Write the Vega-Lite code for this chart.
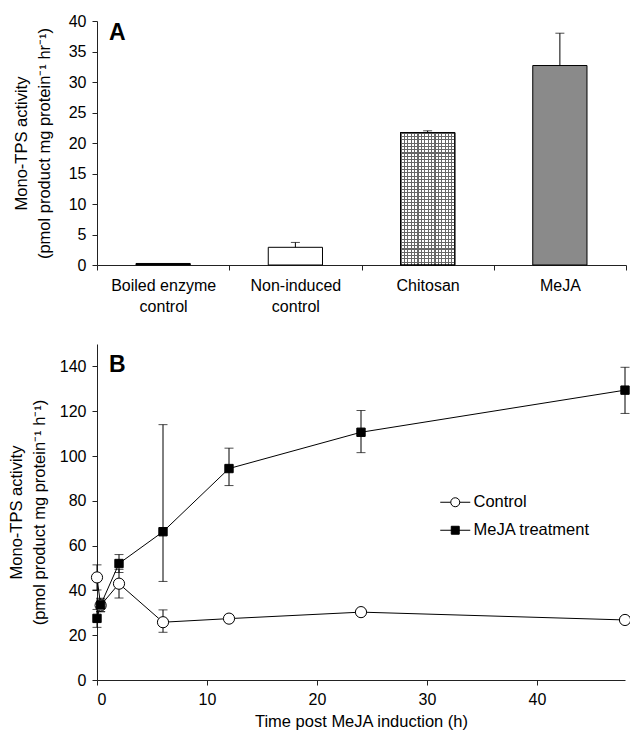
{
  "$schema": "https://vega.github.io/schema/vega-lite/v6.json",
  "padding": {"left": 8, "top": 13, "right": 3, "bottom": 4},
  "spacing": 30,
  "resolve": {"scale": {"fill": "independent", "shape": "independent"}, "legend": {"fill": "independent", "shape": "independent"}},
  "config": {
    "font": "Liberation Sans",
    "view": {"stroke": null},
    "axis": {
      "labelFont": "Liberation Sans", "titleFont": "Liberation Sans",
      "labelFontSize": 16, "titleFontSize": 16.5, "titleFontWeight": "normal",
      "labelColor": "#000", "titleColor": "#000", "domainColor": "#222", "tickColor": "#222",
      "grid": false, "tickSize": 5, "labelPadding": 6
    },
    "legend": {"labelFont": "Liberation Sans", "labelFontSize": 16.5, "labelColor": "#000"},
    "title": {"font": "Liberation Sans", "fontWeight": "bold", "fontSize": 23, "anchor": "start", "frame": "group", "color": "#000"}
  },
  "vconcat": [
    {
      "width": 529,
      "height": 244,
      "title": {"text": "A", "offset": -32, "dx": 12},
      "data": {"values": [
        {"treatment": "Boiled enzyme control", "activity": 0.25, "upper": null},
        {"treatment": "Non-induced control", "activity": 2.9, "upper": 3.7},
        {"treatment": "Chitosan", "activity": 21.7, "upper": 22.0},
        {"treatment": "MeJA", "activity": 32.7, "upper": 38.0}
      ]},
      "encoding": {
        "x": {
          "field": "treatment", "type": "nominal", "sort": null,
          "scale": {"paddingInner": 0, "paddingOuter": 0},
          "axis": {
            "title": null, "labelAngle": 0, "tickBand": "extent", "labelPadding": 7, "labelLineHeight": 21,
            "labelExpr": "datum.value == 'Boiled enzyme control' ? ['Boiled enzyme', 'control'] : datum.value == 'Non-induced control' ? ['Non-induced', 'control'] : datum.value"
          }
        }
      },
      "layer": [
        {
          "mark": {"type": "bar", "width": {"band": 0.41}, "stroke": "#000", "strokeWidth": 1},
          "encoding": {
            "y": {
              "field": "activity", "type": "quantitative",
              "scale": {"domain": [0, 40], "nice": false},
              "axis": {"values": [0, 5, 10, 15, 20, 25, 30, 35, 40], "title": ["Mono-TPS activity", "(pmol product mg protein⁻¹ hr⁻¹)"], "titleLineHeight": 23, "titlePadding": 16}
            },
            "fill": {
              "field": "treatment", "type": "nominal",
              "scale": {"domain": ["Boiled enzyme control", "Non-induced control", "Chitosan", "MeJA"], "range": ["#000000", "#ffffff", "#b4b4b4", "#8a8a8a"]},
              "legend": null
            }
          }
        },
        {
          "transform": [{"filter": "datum.treatment == 'Chitosan'"}],
          "mark": {"type": "bar", "width": {"band": 0.41}, "stroke": "#000", "strokeWidth": 1,
            "fill": {"gradient": "linear", "x1": 0, "x2": 1, "y1": 0, "y2": 0, "stops": [
              {"offset": 0, "color": "#666"}, {"offset": 0.0206, "color": "#666"}, {"offset": 0.0206, "color": "#fff"}, {"offset": 0.0625, "color": "#fff"},
              {"offset": 0.0625, "color": "#666"}, {"offset": 0.0831, "color": "#666"}, {"offset": 0.0831, "color": "#fff"}, {"offset": 0.125, "color": "#fff"},
              {"offset": 0.125, "color": "#666"}, {"offset": 0.1456, "color": "#666"}, {"offset": 0.1456, "color": "#fff"}, {"offset": 0.1875, "color": "#fff"},
              {"offset": 0.1875, "color": "#666"}, {"offset": 0.2081, "color": "#666"}, {"offset": 0.2081, "color": "#fff"}, {"offset": 0.25, "color": "#fff"},
              {"offset": 0.25, "color": "#666"}, {"offset": 0.2706, "color": "#666"}, {"offset": 0.2706, "color": "#fff"}, {"offset": 0.3125, "color": "#fff"},
              {"offset": 0.3125, "color": "#666"}, {"offset": 0.3331, "color": "#666"}, {"offset": 0.3331, "color": "#fff"}, {"offset": 0.375, "color": "#fff"},
              {"offset": 0.375, "color": "#666"}, {"offset": 0.3956, "color": "#666"}, {"offset": 0.3956, "color": "#fff"}, {"offset": 0.4375, "color": "#fff"},
              {"offset": 0.4375, "color": "#666"}, {"offset": 0.4581, "color": "#666"}, {"offset": 0.4581, "color": "#fff"}, {"offset": 0.5, "color": "#fff"},
              {"offset": 0.5, "color": "#666"}, {"offset": 0.5206, "color": "#666"}, {"offset": 0.5206, "color": "#fff"}, {"offset": 0.5625, "color": "#fff"},
              {"offset": 0.5625, "color": "#666"}, {"offset": 0.5831, "color": "#666"}, {"offset": 0.5831, "color": "#fff"}, {"offset": 0.625, "color": "#fff"},
              {"offset": 0.625, "color": "#666"}, {"offset": 0.6456, "color": "#666"}, {"offset": 0.6456, "color": "#fff"}, {"offset": 0.6875, "color": "#fff"},
              {"offset": 0.6875, "color": "#666"}, {"offset": 0.7081, "color": "#666"}, {"offset": 0.7081, "color": "#fff"}, {"offset": 0.75, "color": "#fff"},
              {"offset": 0.75, "color": "#666"}, {"offset": 0.7706, "color": "#666"}, {"offset": 0.7706, "color": "#fff"}, {"offset": 0.8125, "color": "#fff"},
              {"offset": 0.8125, "color": "#666"}, {"offset": 0.8331, "color": "#666"}, {"offset": 0.8331, "color": "#fff"}, {"offset": 0.875, "color": "#fff"},
              {"offset": 0.875, "color": "#666"}, {"offset": 0.8956, "color": "#666"}, {"offset": 0.8956, "color": "#fff"}, {"offset": 0.9375, "color": "#fff"},
              {"offset": 0.9375, "color": "#666"}, {"offset": 0.9581, "color": "#666"}, {"offset": 0.9581, "color": "#fff"}, {"offset": 1, "color": "#fff"}
            ]}},
          "encoding": {"y": {"field": "activity", "type": "quantitative", "axis": {"values": [0, 5, 10, 15, 20, 25, 30, 35, 40], "title": ["Mono-TPS activity", "(pmol product mg protein⁻¹ hr⁻¹)"], "titleLineHeight": 23, "titlePadding": 16}}}
        },
        {
          "transform": [{"filter": "datum.treatment == 'Chitosan'"}],
          "mark": {"type": "bar", "width": {"band": 0.41}, "stroke": "#000", "strokeWidth": 1,
            "fill": {"gradient": "linear", "x1": 0, "x2": 0, "y1": 0, "y2": 1, "stops": [
              {"offset": 0, "color": "#666"}, {"offset": 0.008, "color": "#666"}, {"offset": 0.008, "color": "rgba(255,255,255,0)"}, {"offset": 0.025, "color": "rgba(255,255,255,0)"},
              {"offset": 0.025, "color": "#666"}, {"offset": 0.033, "color": "#666"}, {"offset": 0.033, "color": "rgba(255,255,255,0)"}, {"offset": 0.05, "color": "rgba(255,255,255,0)"},
              {"offset": 0.05, "color": "#666"}, {"offset": 0.058, "color": "#666"}, {"offset": 0.058, "color": "rgba(255,255,255,0)"}, {"offset": 0.075, "color": "rgba(255,255,255,0)"},
              {"offset": 0.075, "color": "#666"}, {"offset": 0.083, "color": "#666"}, {"offset": 0.083, "color": "rgba(255,255,255,0)"}, {"offset": 0.1, "color": "rgba(255,255,255,0)"},
              {"offset": 0.1, "color": "#666"}, {"offset": 0.108, "color": "#666"}, {"offset": 0.108, "color": "rgba(255,255,255,0)"}, {"offset": 0.125, "color": "rgba(255,255,255,0)"},
              {"offset": 0.125, "color": "#666"}, {"offset": 0.133, "color": "#666"}, {"offset": 0.133, "color": "rgba(255,255,255,0)"}, {"offset": 0.15, "color": "rgba(255,255,255,0)"},
              {"offset": 0.15, "color": "#666"}, {"offset": 0.158, "color": "#666"}, {"offset": 0.158, "color": "rgba(255,255,255,0)"}, {"offset": 0.175, "color": "rgba(255,255,255,0)"},
              {"offset": 0.175, "color": "#666"}, {"offset": 0.183, "color": "#666"}, {"offset": 0.183, "color": "rgba(255,255,255,0)"}, {"offset": 0.2, "color": "rgba(255,255,255,0)"},
              {"offset": 0.2, "color": "#666"}, {"offset": 0.208, "color": "#666"}, {"offset": 0.208, "color": "rgba(255,255,255,0)"}, {"offset": 0.225, "color": "rgba(255,255,255,0)"},
              {"offset": 0.225, "color": "#666"}, {"offset": 0.233, "color": "#666"}, {"offset": 0.233, "color": "rgba(255,255,255,0)"}, {"offset": 0.25, "color": "rgba(255,255,255,0)"},
              {"offset": 0.25, "color": "#666"}, {"offset": 0.258, "color": "#666"}, {"offset": 0.258, "color": "rgba(255,255,255,0)"}, {"offset": 0.275, "color": "rgba(255,255,255,0)"},
              {"offset": 0.275, "color": "#666"}, {"offset": 0.283, "color": "#666"}, {"offset": 0.283, "color": "rgba(255,255,255,0)"}, {"offset": 0.3, "color": "rgba(255,255,255,0)"},
              {"offset": 0.3, "color": "#666"}, {"offset": 0.308, "color": "#666"}, {"offset": 0.308, "color": "rgba(255,255,255,0)"}, {"offset": 0.325, "color": "rgba(255,255,255,0)"},
              {"offset": 0.325, "color": "#666"}, {"offset": 0.333, "color": "#666"}, {"offset": 0.333, "color": "rgba(255,255,255,0)"}, {"offset": 0.35, "color": "rgba(255,255,255,0)"},
              {"offset": 0.35, "color": "#666"}, {"offset": 0.358, "color": "#666"}, {"offset": 0.358, "color": "rgba(255,255,255,0)"}, {"offset": 0.375, "color": "rgba(255,255,255,0)"},
              {"offset": 0.375, "color": "#666"}, {"offset": 0.383, "color": "#666"}, {"offset": 0.383, "color": "rgba(255,255,255,0)"}, {"offset": 0.4, "color": "rgba(255,255,255,0)"},
              {"offset": 0.4, "color": "#666"}, {"offset": 0.408, "color": "#666"}, {"offset": 0.408, "color": "rgba(255,255,255,0)"}, {"offset": 0.425, "color": "rgba(255,255,255,0)"},
              {"offset": 0.425, "color": "#666"}, {"offset": 0.433, "color": "#666"}, {"offset": 0.433, "color": "rgba(255,255,255,0)"}, {"offset": 0.45, "color": "rgba(255,255,255,0)"},
              {"offset": 0.45, "color": "#666"}, {"offset": 0.458, "color": "#666"}, {"offset": 0.458, "color": "rgba(255,255,255,0)"}, {"offset": 0.475, "color": "rgba(255,255,255,0)"},
              {"offset": 0.475, "color": "#666"}, {"offset": 0.483, "color": "#666"}, {"offset": 0.483, "color": "rgba(255,255,255,0)"}, {"offset": 0.5, "color": "rgba(255,255,255,0)"},
              {"offset": 0.5, "color": "#666"}, {"offset": 0.508, "color": "#666"}, {"offset": 0.508, "color": "rgba(255,255,255,0)"}, {"offset": 0.525, "color": "rgba(255,255,255,0)"},
              {"offset": 0.525, "color": "#666"}, {"offset": 0.533, "color": "#666"}, {"offset": 0.533, "color": "rgba(255,255,255,0)"}, {"offset": 0.55, "color": "rgba(255,255,255,0)"},
              {"offset": 0.55, "color": "#666"}, {"offset": 0.558, "color": "#666"}, {"offset": 0.558, "color": "rgba(255,255,255,0)"}, {"offset": 0.575, "color": "rgba(255,255,255,0)"},
              {"offset": 0.575, "color": "#666"}, {"offset": 0.583, "color": "#666"}, {"offset": 0.583, "color": "rgba(255,255,255,0)"}, {"offset": 0.6, "color": "rgba(255,255,255,0)"},
              {"offset": 0.6, "color": "#666"}, {"offset": 0.608, "color": "#666"}, {"offset": 0.608, "color": "rgba(255,255,255,0)"}, {"offset": 0.625, "color": "rgba(255,255,255,0)"},
              {"offset": 0.625, "color": "#666"}, {"offset": 0.633, "color": "#666"}, {"offset": 0.633, "color": "rgba(255,255,255,0)"}, {"offset": 0.65, "color": "rgba(255,255,255,0)"},
              {"offset": 0.65, "color": "#666"}, {"offset": 0.658, "color": "#666"}, {"offset": 0.658, "color": "rgba(255,255,255,0)"}, {"offset": 0.675, "color": "rgba(255,255,255,0)"},
              {"offset": 0.675, "color": "#666"}, {"offset": 0.683, "color": "#666"}, {"offset": 0.683, "color": "rgba(255,255,255,0)"}, {"offset": 0.7, "color": "rgba(255,255,255,0)"},
              {"offset": 0.7, "color": "#666"}, {"offset": 0.708, "color": "#666"}, {"offset": 0.708, "color": "rgba(255,255,255,0)"}, {"offset": 0.725, "color": "rgba(255,255,255,0)"},
              {"offset": 0.725, "color": "#666"}, {"offset": 0.733, "color": "#666"}, {"offset": 0.733, "color": "rgba(255,255,255,0)"}, {"offset": 0.75, "color": "rgba(255,255,255,0)"},
              {"offset": 0.75, "color": "#666"}, {"offset": 0.758, "color": "#666"}, {"offset": 0.758, "color": "rgba(255,255,255,0)"}, {"offset": 0.775, "color": "rgba(255,255,255,0)"},
              {"offset": 0.775, "color": "#666"}, {"offset": 0.783, "color": "#666"}, {"offset": 0.783, "color": "rgba(255,255,255,0)"}, {"offset": 0.8, "color": "rgba(255,255,255,0)"},
              {"offset": 0.8, "color": "#666"}, {"offset": 0.808, "color": "#666"}, {"offset": 0.808, "color": "rgba(255,255,255,0)"}, {"offset": 0.825, "color": "rgba(255,255,255,0)"},
              {"offset": 0.825, "color": "#666"}, {"offset": 0.833, "color": "#666"}, {"offset": 0.833, "color": "rgba(255,255,255,0)"}, {"offset": 0.85, "color": "rgba(255,255,255,0)"},
              {"offset": 0.85, "color": "#666"}, {"offset": 0.858, "color": "#666"}, {"offset": 0.858, "color": "rgba(255,255,255,0)"}, {"offset": 0.875, "color": "rgba(255,255,255,0)"},
              {"offset": 0.875, "color": "#666"}, {"offset": 0.883, "color": "#666"}, {"offset": 0.883, "color": "rgba(255,255,255,0)"}, {"offset": 0.9, "color": "rgba(255,255,255,0)"},
              {"offset": 0.9, "color": "#666"}, {"offset": 0.908, "color": "#666"}, {"offset": 0.908, "color": "rgba(255,255,255,0)"}, {"offset": 0.925, "color": "rgba(255,255,255,0)"},
              {"offset": 0.925, "color": "#666"}, {"offset": 0.933, "color": "#666"}, {"offset": 0.933, "color": "rgba(255,255,255,0)"}, {"offset": 0.95, "color": "rgba(255,255,255,0)"},
              {"offset": 0.95, "color": "#666"}, {"offset": 0.958, "color": "#666"}, {"offset": 0.958, "color": "rgba(255,255,255,0)"}, {"offset": 0.975, "color": "rgba(255,255,255,0)"},
              {"offset": 0.975, "color": "#666"}, {"offset": 0.983, "color": "#666"}, {"offset": 0.983, "color": "rgba(255,255,255,0)"}, {"offset": 1, "color": "rgba(255,255,255,0)"}
            ]}},
          "encoding": {"y": {"field": "activity", "type": "quantitative", "axis": {"values": [0, 5, 10, 15, 20, 25, 30, 35, 40], "title": ["Mono-TPS activity", "(pmol product mg protein⁻¹ hr⁻¹)"], "titleLineHeight": 23, "titlePadding": 16}}}
        },
        {
          "transform": [{"filter": "datum.upper != null"}],
          "mark": {"type": "rule", "color": "#000", "strokeWidth": 1},
          "encoding": {"y": {"field": "activity", "type": "quantitative", "axis": {"values": [0, 5, 10, 15, 20, 25, 30, 35, 40], "title": ["Mono-TPS activity", "(pmol product mg protein⁻¹ hr⁻¹)"], "titleLineHeight": 23, "titlePadding": 16}}, "y2": {"field": "upper"}}
        },
        {
          "transform": [{"filter": "datum.upper != null"}],
          "mark": {"type": "tick", "color": "#000", "orient": "horizontal", "size": 9, "thickness": 1},
          "encoding": {"y": {"field": "upper", "type": "quantitative", "axis": {"values": [0, 5, 10, 15, 20, 25, 30, 35, 40], "title": ["Mono-TPS activity", "(pmol product mg protein⁻¹ hr⁻¹)"], "titleLineHeight": 23, "titlePadding": 16}}}
        }
      ]
    },
    {
      "width": 528,
      "height": 336,
      "title": {"text": "B", "offset": -33, "dx": 12},
      "data": {"values": [
        {"series": "Control", "time": 0, "activity": 45.8, "lo": 40.2, "hi": 51.4},
        {"series": "Control", "time": 0.33, "activity": 33.3, "lo": 30.5, "hi": 36.1},
        {"series": "Control", "time": 2, "activity": 43.0, "lo": 36.6, "hi": 49.4},
        {"series": "Control", "time": 6, "activity": 25.8, "lo": 21.3, "hi": 31.3},
        {"series": "Control", "time": 12, "activity": 27.4, "lo": 25.9, "hi": 28.9},
        {"series": "Control", "time": 24, "activity": 30.3, "lo": 29.3, "hi": 31.3},
        {"series": "Control", "time": 48, "activity": 26.8, "lo": 25.3, "hi": 28.3},
        {"series": "MeJA treatment", "time": 0, "activity": 27.5, "lo": 23.5, "hi": 31.5},
        {"series": "MeJA treatment", "time": 0.33, "activity": 33.5, "lo": 30.5, "hi": 36.5},
        {"series": "MeJA treatment", "time": 2, "activity": 52.0, "lo": 48.0, "hi": 56.0},
        {"series": "MeJA treatment", "time": 6, "activity": 66.2, "lo": 44.0, "hi": 114.0},
        {"series": "MeJA treatment", "time": 12, "activity": 94.4, "lo": 86.8, "hi": 103.5},
        {"series": "MeJA treatment", "time": 24, "activity": 110.6, "lo": 101.5, "hi": 120.3},
        {"series": "MeJA treatment", "time": 48, "activity": 129.4, "lo": 119.0, "hi": 139.6}
      ]},
      "encoding": {
        "x": {
          "field": "time", "type": "quantitative",
          "scale": {"domain": [0, 48], "nice": false},
          "axis": {"values": [0, 10, 20, 30, 40], "title": "Time post MeJA induction (h)", "titlePadding": 6}
        }
      },
      "layer": [
        {
          "mark": {"type": "line", "color": "#000", "strokeWidth": 1},
          "encoding": {
            "y": {
              "field": "activity", "type": "quantitative",
              "scale": {"domain": [0, 150], "nice": false},
              "axis": {"values": [0, 20, 40, 60, 80, 100, 120, 140], "title": ["Mono-TPS activity", "(pmol product mg protein⁻¹ h⁻¹)"], "titleLineHeight": 23, "titlePadding": 12}
            },
            "detail": {"field": "series"}
          }
        },
        {
          "mark": {"type": "rule", "color": "#000", "strokeWidth": 1},
          "encoding": {"y": {"field": "lo", "type": "quantitative", "axis": {"values": [0, 20, 40, 60, 80, 100, 120, 140], "title": ["Mono-TPS activity", "(pmol product mg protein⁻¹ h⁻¹)"], "titleLineHeight": 23, "titlePadding": 12}}, "y2": {"field": "hi"}}
        },
        {
          "mark": {"type": "tick", "color": "#000", "orient": "horizontal", "size": 9, "thickness": 1},
          "encoding": {"y": {"field": "lo", "type": "quantitative", "axis": {"values": [0, 20, 40, 60, 80, 100, 120, 140], "title": ["Mono-TPS activity", "(pmol product mg protein⁻¹ h⁻¹)"], "titleLineHeight": 23, "titlePadding": 12}}}
        },
        {
          "mark": {"type": "tick", "color": "#000", "orient": "horizontal", "size": 9, "thickness": 1},
          "encoding": {"y": {"field": "hi", "type": "quantitative", "axis": {"values": [0, 20, 40, 60, 80, 100, 120, 140], "title": ["Mono-TPS activity", "(pmol product mg protein⁻¹ h⁻¹)"], "titleLineHeight": 23, "titlePadding": 12}}}
        },
        {
          "transform": [{"filter": "datum.series == 'Control'"}],
          "mark": {"type": "point", "shape": "circle", "size": 125, "filled": true, "fill": "#ffffff", "opacity": 1, "stroke": "#000", "strokeWidth": 1},
          "encoding": {
            "y": {"field": "activity", "type": "quantitative", "axis": {"values": [0, 20, 40, 60, 80, 100, 120, 140], "title": ["Mono-TPS activity", "(pmol product mg protein⁻¹ h⁻¹)"], "titleLineHeight": 23, "titlePadding": 12}}
          }
        },
        {
          "transform": [{"filter": "datum.series == 'MeJA treatment'"}],
          "mark": {"type": "point", "shape": "square", "size": 70, "filled": true, "fill": "#000000", "opacity": 1, "stroke": "#000", "strokeWidth": 1},
          "encoding": {
            "y": {"field": "activity", "type": "quantitative", "axis": {"values": [0, 20, 40, 60, 80, 100, 120, 140], "title": ["Mono-TPS activity", "(pmol product mg protein⁻¹ h⁻¹)"], "titleLineHeight": 23, "titlePadding": 12}}
          }
        },
        {
          "transform": [{"filter": "datum.series == 'legend only'"}],
          "mark": {"type": "point", "filled": true, "opacity": 1, "stroke": "#000", "strokeWidth": 1},
          "encoding": {
            "y": {"field": "activity", "type": "quantitative", "axis": {"values": [0, 20, 40, 60, 80, 100, 120, 140], "title": ["Mono-TPS activity", "(pmol product mg protein⁻¹ h⁻¹)"], "titleLineHeight": 23, "titlePadding": 12}},
            "shape": {
              "field": "series", "type": "nominal",
              "scale": {"domain": ["Control", "MeJA treatment"], "range": ["M-2,0H-0.6M0.6,0H2M-0.6,0A0.6,0.6 0 1,0 0.6,0A0.6,0.6 0 1,0 -0.6,0", "M-2,0H2M-0.53,-0.53H0.53V0.53H-0.53Z"]},
              "legend": {
                "title": null, "orient": "none", "legendX": 350, "legendY": 150,
                "symbolSize": 225, "labelOffset": 10, "rowPadding": 11, "symbolStrokeWidth": 1
              }
            },
            "fill": {
              "field": "series", "type": "nominal",
              "scale": {"domain": ["Control", "MeJA treatment"], "range": ["#ffffff", "#000000"]},
              "legend": {
                "title": null, "orient": "none", "legendX": 350, "legendY": 150,
                "symbolSize": 225, "labelOffset": 10, "rowPadding": 11, "symbolStrokeWidth": 1
              }
            }
          }
        }
      ]
    }
  ]
}
